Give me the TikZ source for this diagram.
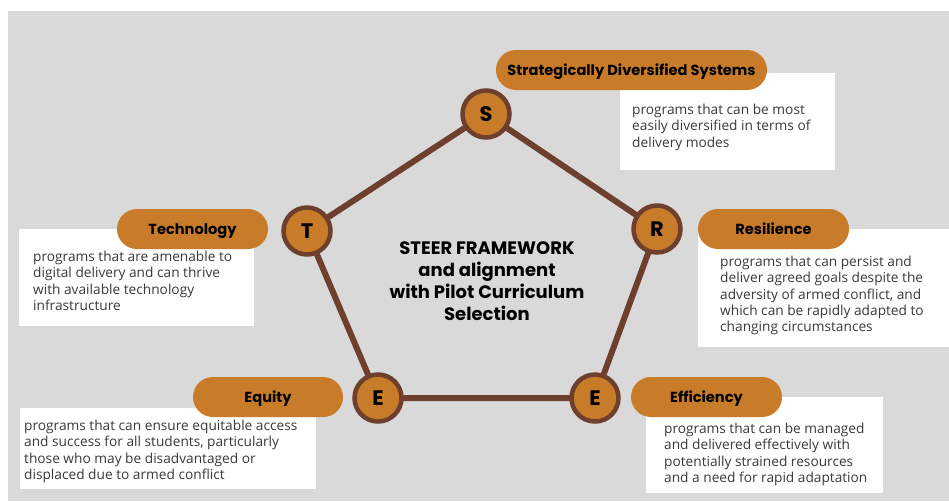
\documentclass[tikz,border=0pt]{standalone}
\usepackage{fontspec}
\setmainfont{Open Sans}
\newfontfamily\headfont{Poppins}
\usetikzlibrary{positioning}

\definecolor{paper}{HTML}{D9D9D9}
\definecolor{ochre}{HTML}{C87B28}
\definecolor{bark}{HTML}{6E3F2C}
\definecolor{ink}{HTML}{3A3A3A}

\begin{document}
\begin{tikzpicture}[x=1pt,y=-1pt,
		letter/.style={circle,fill=ochre,draw=bark,line width=4.5pt,minimum size=47pt,inner sep=0pt,text height=14.5pt,text depth=0pt,font=\headfont\fontsize{21}{21}\selectfont\bfseries},
		pill/.style={fill=ochre,rounded corners=20pt,minimum height=40pt,inner sep=0pt,text height=10.5pt,text depth=0pt,font=\headfont\fontsize{14.6}{15}\selectfont\bfseries},
		descbox/.style={fill=white,anchor=north west,inner sep=0pt},
		desc/.style={anchor=north west,inner sep=0pt,align=left,text=ink,font=\fontsize{13.7}{16.3}\selectfont},
		spoke/.style={draw=bark,line width=6pt}]
		% The frame
		\path[use as bounding box] (0,0) rectangle (949,501);
		\fill[paper] (8,11) rectangle (949,501);
		
		% The corners of the pentagon
		\coordinate (cS) at (486,114);
		\coordinate (cR) at (657,229);
		\coordinate (cEr) at (595,398);
		\coordinate (cEl) at (378,398);
		\coordinate (cT) at (307,231);
		
		% The white description boxes
		\node[descbox,minimum width=215pt,minimum height=97pt] (boxS) at (620,73) {};
		\node[descbox,minimum width=235pt,minimum height=97pt] (boxT) at (19,229) {};
		\node[descbox,minimum width=251pt,minimum height=118pt] (boxR) at (698,229) {};
		\node[descbox,minimum width=296pt,minimum height=81pt] (boxEq) at (20,408) {};
		\node[descbox,minimum width=237pt,minimum height=96pt] (boxEf) at (646,397) {};
		
		\node[desc] (txtS) at (632,104) {programs that can be most\\easily diversified in terms of\\delivery modes};
		\node[desc] (txtT) at (33,251) {programs that are amenable to\\digital delivery and can thrive\\with available technology\\infrastructure};
		\node[desc] (txtR) at (720,256) {programs that can persist and\\deliver agreed goals despite the\\adversity of armed conflict, and\\which can be rapidly adapted to\\changing circumstances};
		\node[desc] (txtEq) at (24,420) {programs that can ensure equitable access\\and success for all students, particularly\\those who may be disadvantaged or\\displaced due to armed conflict};
		\node[desc] (txtEf) at (664,423) {programs that can be managed\\and delivered effectively with\\potentially strained resources\\and a need for rapid adaptation};
		
		% The labels
		\node[pill,minimum width=271pt] (pillS) at (631.5,70) {Strategically Diversified Systems};
		\node[pill,minimum width=151pt] (pillT) at (192.5,229) {Technology};
		\node[pill,minimum width=151pt] (pillR) at (773.5,229) {Resilience};
		\node[pill,minimum width=150pt] (pillEq) at (268,397) {Equity};
		\node[pill,minimum width=151pt] (pillEf) at (706.5,397) {Efficiency};
		
		% The pentagon
		\draw[spoke] (cS) -- (cR) -- (cEr) -- (cEl) -- (cT) -- cycle;
		\node[letter] (S) at (cS) {S};
		\node[letter] (R) at (cR) {R};
		\node[letter] (Er) at (cEr) {E};
		\node[letter] (El) at (cEl) {E};
		\node[letter] (T) at (cT) {T};
		
		\node[align=center,font=\headfont\fontsize{18}{22}\selectfont\bfseries] (title) at (487,281) {STEER FRAMEWORK\\and alignment\\with Pilot Curriculum\\Selection};
	\end{tikzpicture}
\end{document}
